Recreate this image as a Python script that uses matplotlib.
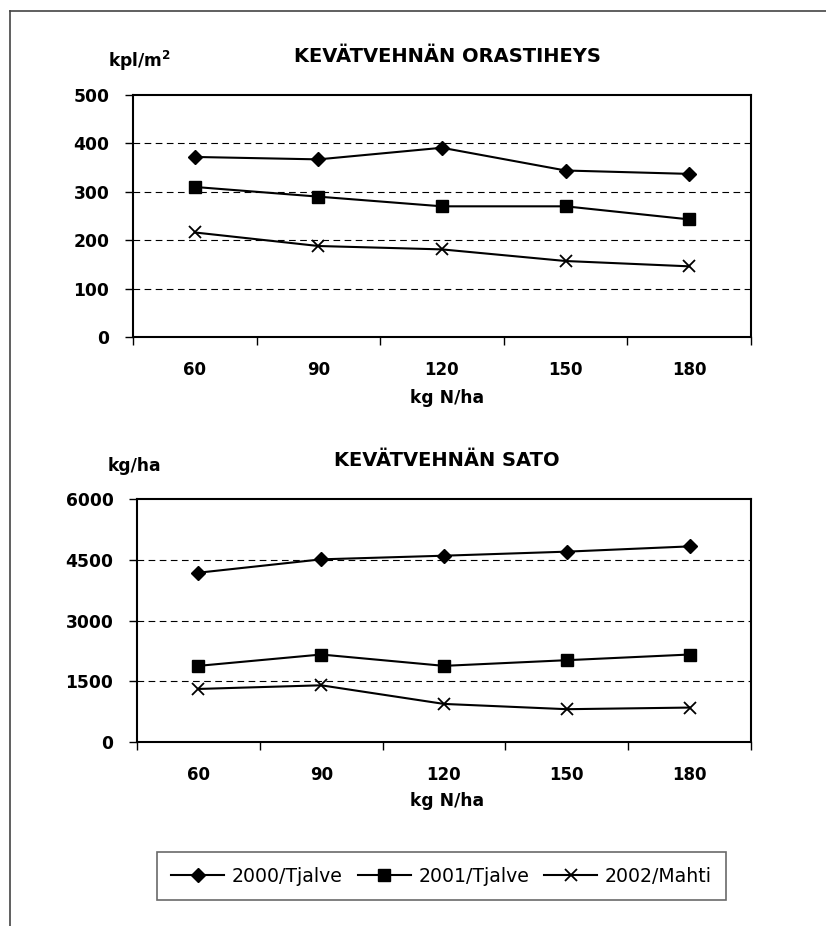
import matplotlib.pyplot as plt
from matplotlib.lines import Line2D

plt.rcParams['font.family'] = ['DejaVu Sans']

# Data
doses = ["60", "90", "120", "150", "180"]
series_names = ["2000/Tjalve", "2001/Tjalve", "2002/Mahti"]
density_2000 = [372, 367, 391, 344, 337]
density_2001 = [310, 290, 270, 270, 243]
density_2002 = [216, 188, 181, 157, 146]
yield_2000 = [4180, 4510, 4600, 4700, 4830]
yield_2001 = [1880, 2160, 1880, 2020, 2160]
yield_2002 = [1310, 1400, 940, 810, 850]

markers = ["D", "s", "x"]
msizes = [7.5, 8.5, 8.5]

W, H = 826, 926
fig = plt.figure(figsize=(W / 100, H / 100), dpi=100)

# page frame (top and left edges)
fig.add_artist(Line2D([10 / W, 1], [1 - 11 / H, 1 - 11 / H], color="#444444", lw=1.2))
fig.add_artist(Line2D([10 / W, 10 / W], [0, 1 - 11 / H], color="#444444", lw=1.2))


def make_panel(rect, series, ymax, ystep, title, ylab, ylab_x, hdr_y, xlab_y):
    ax = fig.add_axes(rect)
    x = list(range(len(doses)))
    handles = []
    for vals, m, ms, name in zip(series, markers, msizes, series_names):
        h, = ax.plot(x, vals, color="black", lw=1.5, marker=m, markersize=ms,
                     markeredgewidth=1.3 if m == "x" else 1.0, label=name)
        handles.append(h)
    ax.set_xlim(-0.5, len(doses) - 0.5)
    ax.set_ylim(0, ymax)
    ticks = list(range(0, ymax + 1, ystep))
    ax.set_yticks(ticks)
    ax.set_yticklabels([str(t) for t in ticks], fontweight="bold", fontsize=12.3)
    for t in ticks[1:-1]:
        ax.axhline(t, color="black", lw=0.8, ls=(0, (6, 4)), zorder=0)
    ax.set_xticks([i - 0.5 for i in range(len(doses) + 1)])
    ax.set_xticklabels([])
    ax.set_xticks(x, minor=True)
    ax.set_xticklabels(doses, minor=True, fontweight="bold", fontsize=12)
    ax.tick_params(axis="x", which="minor", length=0, pad=17)
    ax.tick_params(axis="x", which="major", length=6, width=1, direction="out")
    ax.tick_params(axis="y", length=6, width=1, direction="out", pad=11)
    for s in ax.spines.values():
        s.set_linewidth(1.5)
    fig.text(447 / W, 1 - xlab_y / H, "kg N/ha", fontweight="bold", fontsize=12.3,
             ha="center", va="center")
    fig.text(ylab_x / W, 1 - hdr_y / H, ylab, fontweight="bold", fontsize=12.3,
             ha="center", va="center")
    fig.text(447 / W, 1 - (hdr_y - 5) / H, title, fontweight="bold", fontsize=14,
             ha="center", va="center")
    return handles


handles = make_panel([133 / W, 1 - 337 / H, 618 / W, 242 / H],
                     [density_2000, density_2001, density_2002], 500, 100,
                     "KEVÄTVEHNÄN ORASTIHEYS", "kpl/m$^{\\mathbf{2}}$", 140, 61, 398)
make_panel([137 / W, 1 - 742 / H, 614 / W, 243 / H],
           [yield_2000, yield_2001, yield_2002], 6000, 1500,
           "KEVÄTVEHNÄN SATO", "kg/ha", 134, 466, 801)

leg = fig.legend(handles, series_names, ncol=3, loc="center",
                 bbox_to_anchor=(441.5 / W, 1 - 876 / H), frameon=True,
                 fancybox=False, edgecolor="#444444", fontsize=13.6,
                 handlelength=2.8, columnspacing=0.8, handletextpad=0.4,
                 borderpad=0.75, borderaxespad=0)
leg.get_frame().set_linewidth(1.2)

fig.savefig("out.png", dpi=100)
